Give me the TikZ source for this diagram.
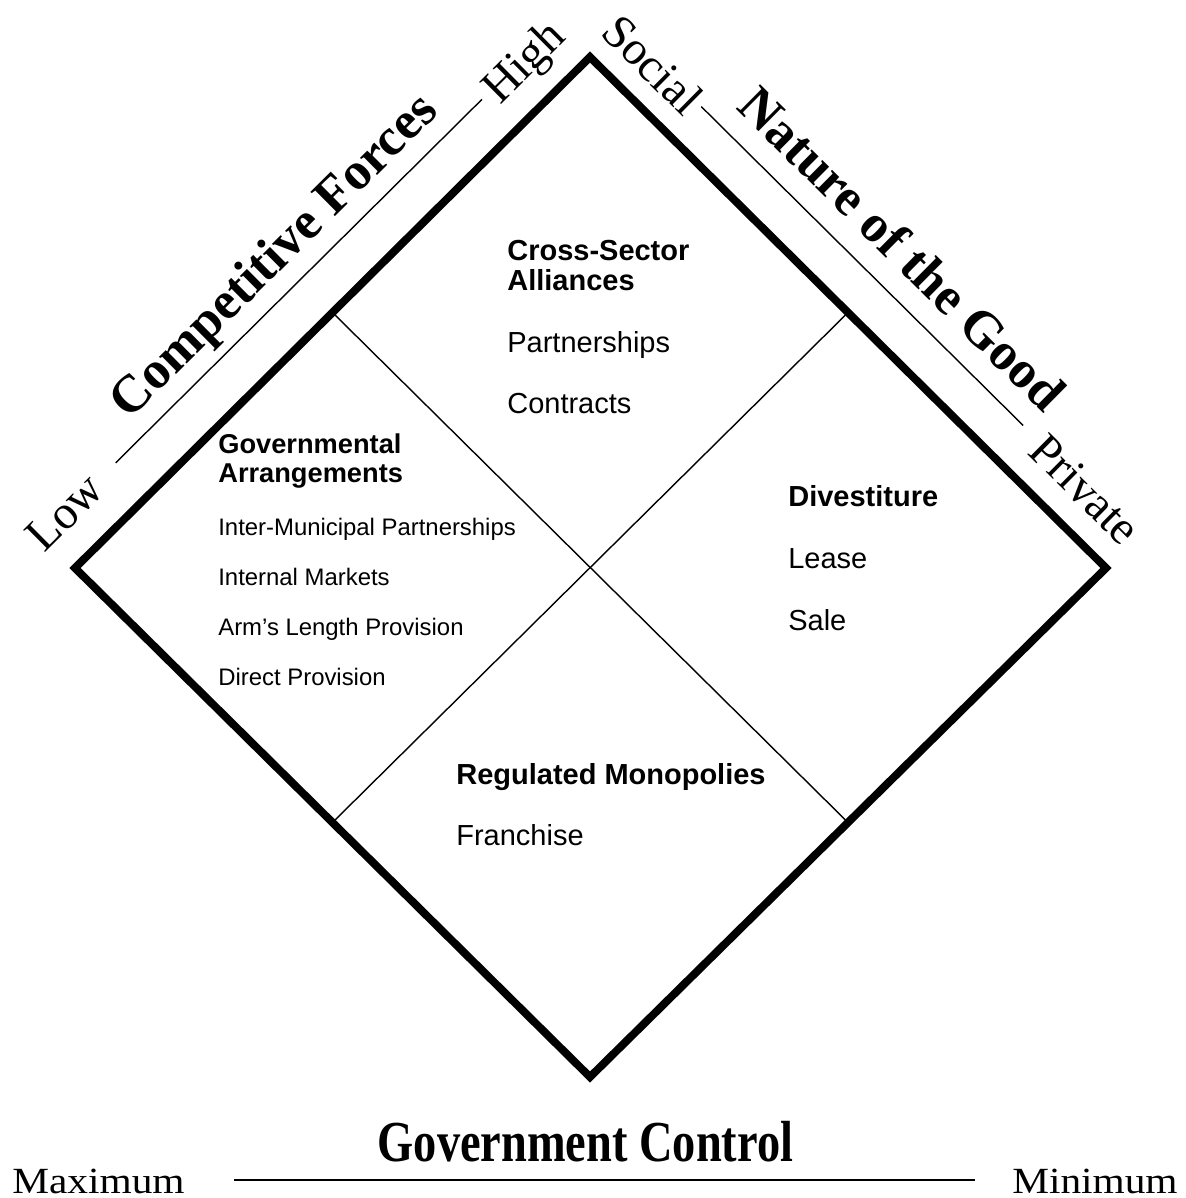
\documentclass[tikz,border=0pt]{standalone}
\usepackage{fontspec}
\setmainfont{Liberation Serif}
\setsansfont{Liberation Sans}
\usetikzlibrary{calc}

\begin{document}
\begin{tikzpicture}[%
  x=0.02cm, y=-0.02cm,
  frame/.style={line width=4.5pt, line join=miter},
  divider/.style={line width=0.8pt},
  rule/.style={line width=0.8pt},
  axisname/.style={font=\bfseries\fontsize{30}{32}\selectfont, anchor=base, inner sep=0pt},
  pole/.style={font=\fontsize{27}{30}\selectfont, inner sep=0pt},
  head/.style={anchor=base west, inner sep=0pt, font=\sffamily\bfseries\fontsize{16.5}{18}\selectfont},
  entry/.style={anchor=base west, inner sep=0pt, font=\sffamily\fontsize{16.5}{18}\selectfont},
  smallhead/.style={head, font=\sffamily\bfseries\fontsize{15.5}{17}\selectfont},
  smallentry/.style={entry, font=\sffamily\fontsize{13.6}{15}\selectfont}]
\useasboundingbox (0,0) rectangle (1186,1198);

\coordinate (vtop) at (590,57);
\coordinate (vright) at (1106,568);
\coordinate (vbottom) at (590,1077);
\coordinate (vleft) at (75,568);

\draw[frame] (vtop) -- (vright) -- (vbottom) -- (vleft) -- cycle;
\draw[divider] ($(vleft)!0.5!(vtop)$) -- ($(vright)!0.5!(vbottom)$);
\draw[divider] ($(vtop)!0.5!(vright)$) -- ($(vbottom)!0.5!(vleft)$);

% competitive forces
\coordinate (cfLow) at (115.7,462.8);
\coordinate (cfHigh) at (482,99.3);
\draw[rule] (cfLow) -- (cfHigh);
\node[pole, rotate=44.8] (low) at (64.6,512) {Low};
\node[pole, rotate=44.8] (high) at (526,64.2) {High};
\node[axisname, rotate=44.8] (forces) at (284.8,266.8) {Competitive Forces};

% nature of the good
\coordinate (ngSocial) at (701.3,106.6);
\coordinate (ngPrivate) at (1023.1,425.4);
\draw[rule] (ngSocial) -- (ngPrivate);
\node[pole, rotate=-44.7] (social) at (652.9,64.5) {Social};
\node[pole, rotate=-44.7] (private) at (1085,489.5) {Private};
\node[axisname, rotate=-44.7] (good) at (890,261.3) {Nature of the Good};

% government control
\coordinate (gcMax) at (234,1180);
\coordinate (gcMin) at (975,1180);
\draw[rule] (gcMax) -- (gcMin);
\node[anchor=base, inner sep=0pt, xscale=0.8, font=\bfseries\fontsize{33}{36}\selectfont] (control) at (585.5,1161) {Government Control};
\node[anchor=base west, inner sep=0pt, xscale=1.12, font=\fontsize{21}{24}\selectfont] (maximum) at (12,1193) {Maximum};
\node[anchor=base east, inner sep=0pt, xscale=1.12, font=\fontsize{21}{24}\selectfont] (minimum) at (1178,1193) {Minimum};

% quadrants
\node[head] (crossA) at (507,260) {Cross-Sector};
\node[head] (crossB) at (507,290) {Alliances};
\node[entry] (partnerships) at (507,352) {Partnerships};
\node[entry] (contracts) at (507,413) {Contracts};

\node[smallhead] (govA) at (218,453) {Governmental};
\node[smallhead] (govB) at (218,482) {Arrangements};
\node[smallentry] (intermunicipal) at (218,535) {Inter-Municipal Partnerships};
\node[smallentry] (internal) at (218,585) {Internal Markets};
\node[smallentry] (armslength) at (218,635) {Arm’s Length Provision};
\node[smallentry] (direct) at (218,685) {Direct Provision};

\node[head] (divest) at (788,506) {Divestiture};
\node[entry] (lease) at (788,568) {Lease};
\node[entry] (sale) at (788,630) {Sale};

\node[head] (regulated) at (456,784) {Regulated Monopolies};
\node[entry] (franchise) at (456,845) {Franchise};
\end{tikzpicture}
\end{document}
